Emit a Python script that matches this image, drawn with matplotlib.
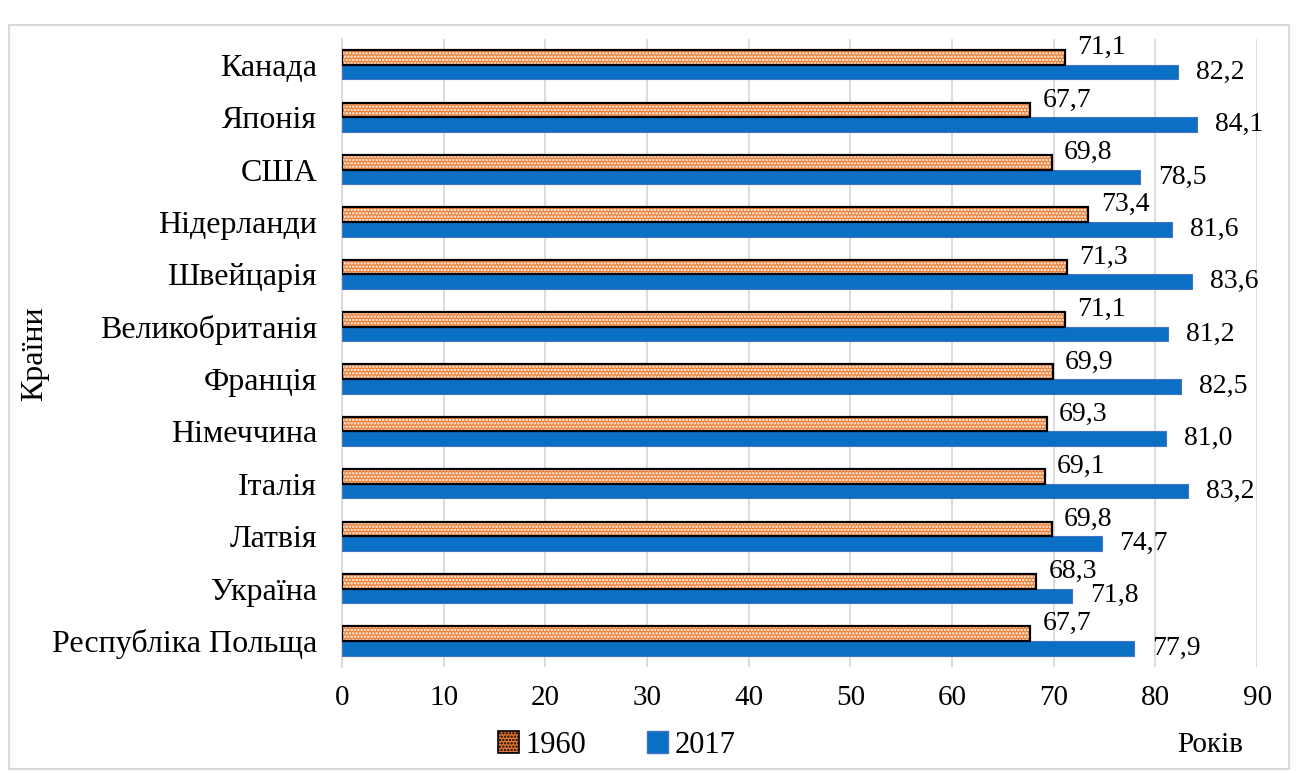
import numpy as np
import matplotlib
matplotlib.use('Agg')
from matplotlib import pyplot as plt
from matplotlib.patches import Patch

countries = ['Канада', 'Японія', 'США', 'Нідерланди', 'Швейцарія', 'Великобританія',
             'Франція', 'Німеччина', 'Італія', 'Латвія', 'Україна', 'Республіка Польща']
v1960 = [71.1, 67.7, 69.8, 73.4, 71.3, 71.1, 69.9, 69.3, 69.1, 69.8, 68.3, 67.7]
v2017 = [82.2, 84.1, 78.5, 81.6, 83.6, 81.2, 82.5, 81.0, 83.2, 74.7, 71.8, 77.9]
xticks = list(range(0, 91, 10))

plt.rcParams['font.family'] = ['Liberation Serif', 'DejaVu Serif']
plt.rcParams['hatch.linewidth'] = 1.2

fig = plt.figure(figsize=(12.98, 7.73), dpi=100)
ax = fig.add_axes([0.2635, 0.137, 0.705, 0.813])

y = np.arange(len(countries))
h = 0.28

# 1960: orange with white dots, black outline
ax.barh(y - h / 2, v1960, height=h, color='#ED7D31', edgecolor='white',
        hatch='.....', linewidth=0, zorder=3)
ax.barh(y - h / 2, v1960, height=h, facecolor='none', edgecolor='black',
        linewidth=1.6, zorder=4)
ax.barh(y + h / 2, v2017, height=h, color='#0B6FC3', edgecolor='#4472C4',
        linewidth=0.8, zorder=3)

for i in range(len(countries)):
    ax.annotate(f'{v1960[i]:.1f}'.replace('.', ','), (v1960[i], y[i] - h / 2),
                xytext=(9, 7), textcoords='offset points', ha='left', va='center',
                fontsize=20, zorder=5)
    ax.annotate(f'{v2017[i]:.1f}'.replace('.', ','), (v2017[i], y[i] + h / 2),
                xytext=(13, 0), textcoords='offset points', ha='left', va='center',
                fontsize=20, zorder=5)

ax.set_ylim(len(countries) - 0.5, -0.5)
ax.set_xlim(0, 90)
ax.set_xticks(xticks)
ax.set_yticks(y)
ax.set_yticklabels(countries, fontsize=23)
ax.tick_params(axis='x', labelsize=21, length=0, pad=13)
ax.tick_params(axis='y', length=0, pad=18)
ax.grid(axis='x', color='#D9D9D9', linewidth=1.3, zorder=0)
for s in ['top', 'right', 'bottom']:
    ax.spines[s].set_visible(False)
ax.spines['left'].set_color('#D9D9D9')
ax.spines['left'].set_linewidth(1.3)

fig.text(0.027, 0.542, 'Країни', rotation=90, fontsize=23, ha='center', va='center')
fig.text(0.932, 0.036, 'Років', fontsize=21, ha='center', va='center')

# legend
h1 = Patch(facecolor='#ED7D31', edgecolor='black', hatch='.....', linewidth=1.2)
h2 = Patch(facecolor='#0B6FC3', edgecolor='#4472C4')
fig.legend([h1, h2], ['1960', '2017'], loc='center', bbox_to_anchor=(0.475, 0.036),
           ncol=2, frameon=False, fontsize=22, handlelength=0.7, handleheight=0.7,
           columnspacing=2.0, handletextpad=0.2)

# outer border
fig.patches.append(plt.Rectangle((0.007, 0.005), 0.986, 0.963, transform=fig.transFigure,
                                 fill=False, edgecolor='#D9D9D9', linewidth=1.5))

plt.savefig('out.png', dpi=100)
